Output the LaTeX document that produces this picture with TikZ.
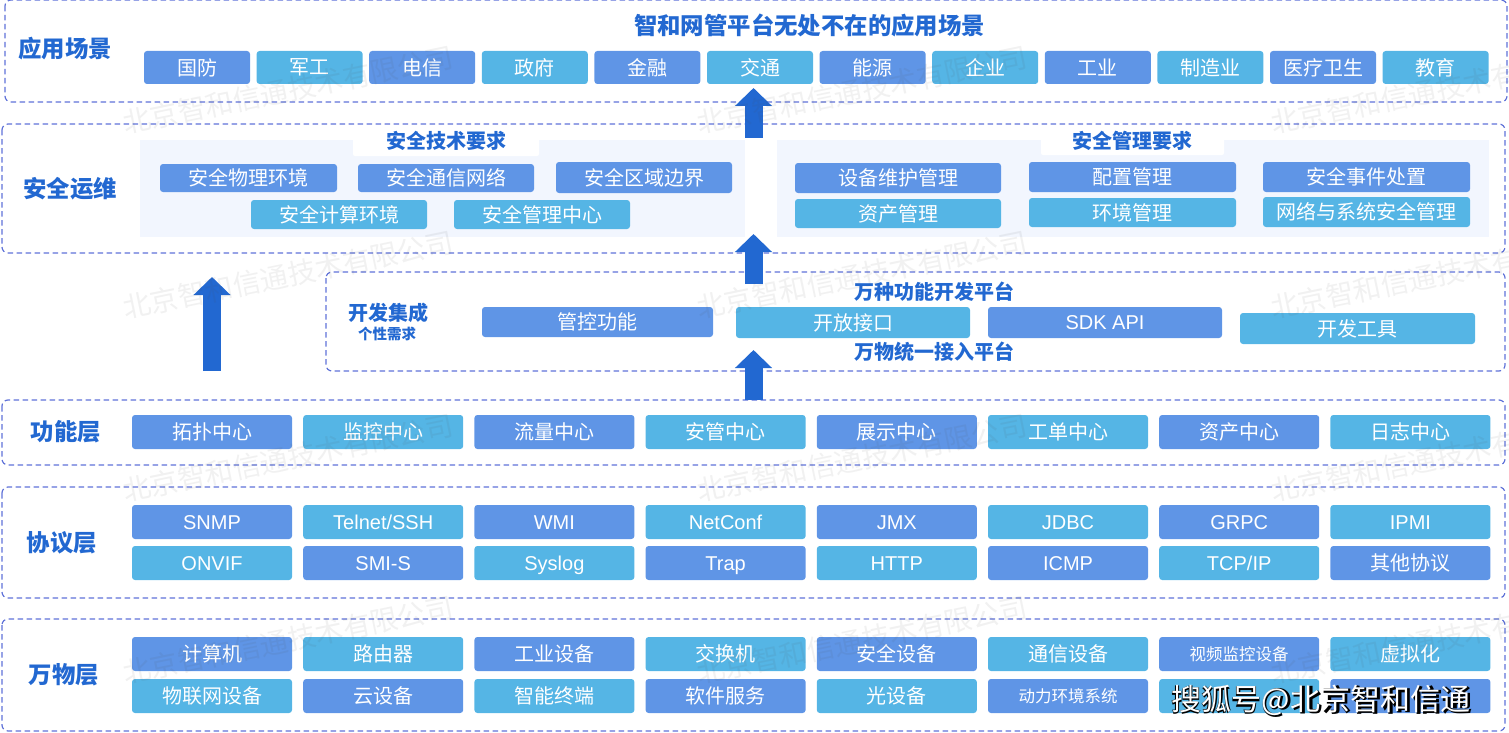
\documentclass[tikz,border=0pt]{standalone}
\usepackage{fontspec}
\setmainfont{Noto Sans CJK SC}
\newfontfamily\latinfont{Liberation Sans}
\usetikzlibrary{arrows.meta}
\definecolor{boxblue}{HTML}{5F95E6}
\definecolor{boxcyan}{HTML}{55B5E5}
\definecolor{headblue}{HTML}{2268D1}
\definecolor{panelline}{HTML}{5F72D8}
\definecolor{softbg}{HTML}{F2F6FE}
\tikzset{
    panel/.style={draw=panelline, dash pattern=on 5.5pt off 3.5pt, line width=1.2pt, rounded corners=6pt},
    cell/.style={text=white, rounded corners=3pt, inner sep=0pt, font=\fontsize{20}{24}\selectfont},
    latincell/.style={cell, font=\fontsize{20}{24}\selectfont\latinfont, text height=16pt, text depth=2pt},
    head/.style={text=headblue, inner sep=0pt, font=\fontsize{23.4}{26}\selectfont\bfseries},
    subhead/.style={text=headblue, inner sep=0pt, font=\fontsize{20}{24}\selectfont\bfseries},
    upflow/.style={draw=headblue, line width=18pt, -{Triangle[length=18pt, width=36pt]}},
    stamp/.style={text=black!70, opacity=0.08, rotate=11.5, inner sep=0pt, font=\fontsize{28}{30}\selectfont},
}
\begin{document}
\begin{tikzpicture}[x=1pt, y=-1pt]
    \useasboundingbox (0,0) rectangle (1509,733);
    \def\wide{160}
    \def\tall{34}
    \def\pitch{171.2}

    \draw[panel] (5,0) rectangle (1507,102);
    \draw[panel] (2,124) rectangle (1505,253);
    \draw[panel] (326,272) rectangle (1505,371);
    \draw[panel] (2,400) rectangle (1505,465);
    \draw[panel] (2,487) rectangle (1505,598);
    \draw[panel] (2,619) rectangle (1505,731);

    \fill[softbg] (140,140) rectangle (745,237);
    \fill[softbg] (777,140) rectangle (1489,237);
    \fill[white, rounded corners=2pt] (353,127) rectangle (539,156);
    \fill[white, rounded corners=2pt] (1041,127) rectangle (1224,155);

    \node[head] (apphead) at (65,49) {应用场景};
    \node[head] (title) at (809.5,25) {智和网管平台无处不在的应用场景};
    \node[head] (safehead) at (70,189) {安全运维};
    \node[subhead] (techhead) at (446,141) {安全技术要求};
    \node[subhead] (manhead) at (1132,141) {安全管理要求};
    \node[subhead] (devhead) at (388,313) {开发集成};
    \node[text=headblue, inner sep=0pt, font=\fontsize{14.5}{16}\selectfont\bfseries] (devsub) at (387,334) {个性需求};
    \node[subhead] (devtop) at (934,292) {万种功能开发平台};
    \node[subhead] (devbot) at (934,352) {万物统一接入平台};
    \node[head] (fnhead) at (66,432) {功能层};
    \node[head] (prohead) at (62,543) {协议层};
    \node[head] (thinghead) at (64,675) {万物层};

    \foreach \name [count=\i] in {国防, 军工, 电信, 政府, 金融, 交通, 能源, 企业, 工业, 制造业, 医疗卫生, 教育} {
        \ifodd\i \def\tone{boxblue}\else\def\tone{boxcyan}\fi
        \node[cell, fill=\tone, minimum width=106, minimum height=33] (app\i) at ({197+112.6*(\i-1)},67.5) {\name};
    }

    \node[cell, fill=boxblue, minimum width=177, minimum height=28] (tech1) at (248.5,178) {安全物理环境};
    \node[cell, fill=boxblue, minimum width=176, minimum height=28] (tech2) at (446,178) {安全通信网络};
    \node[cell, fill=boxblue, minimum width=176, minimum height=31] (tech3) at (644,177.5) {安全区域边界};
    \node[cell, fill=boxcyan, minimum width=176, minimum height=29] (tech4) at (339,214.5) {安全计算环境};
    \node[cell, fill=boxcyan, minimum width=176, minimum height=29] (tech5) at (542,214.5) {安全管理中心};

    \node[cell, fill=boxblue, minimum width=206, minimum height=30] (man1) at (898,178) {设备维护管理};
    \node[cell, fill=boxcyan, minimum width=206, minimum height=29] (man2) at (898,213.5) {资产管理};
    \node[cell, fill=boxblue, minimum width=207, minimum height=30] (man3) at (1132.5,177) {配置管理};
    \node[cell, fill=boxcyan, minimum width=207, minimum height=29] (man4) at (1132.5,212.5) {环境管理};
    \node[cell, fill=boxblue, minimum width=207, minimum height=30] (man5) at (1366.5,177) {安全事件处置};
    \node[cell, fill=boxcyan, minimum width=207, minimum height=30] (man6) at (1366.5,212) {网络与系统安全管理};

    \node[cell, fill=boxblue, minimum width=231, minimum height=30] (dev1) at (597.5,322) {管控功能};
    \node[cell, fill=boxcyan, minimum width=234, minimum height=31] (dev2) at (853,322.5) {开放接口};
    \node[latincell, fill=boxblue, minimum width=234, minimum height=31] (dev3) at (1105,322.5) {SDK API};
    \node[cell, fill=boxcyan, minimum width=235, minimum height=31] (dev4) at (1357.5,328.5) {开发工具};

    \foreach \name [count=\i] in {拓扑中心, 监控中心, 流量中心, 安管中心, 展示中心, 工单中心, 资产中心, 日志中心} {
        \ifodd\i \def\tone{boxblue}\else\def\tone{boxcyan}\fi
        \node[cell, fill=\tone, minimum width=\wide, minimum height=\tall] (fn\i) at ({212+\pitch*(\i-1)},432) {\name};
    }
    \foreach \name [count=\i] in {SNMP, Telnet/SSH, WMI, NetConf, JMX, JDBC, GRPC, IPMI} {
        \ifodd\i \def\tone{boxblue}\else\def\tone{boxcyan}\fi
        \node[latincell, fill=\tone, minimum width=\wide, minimum height=\tall] (proa\i) at ({212+\pitch*(\i-1)},522) {\name};
    }
    \foreach \name [count=\i] in {ONVIF, SMI-S, Syslog, Trap, HTTP, ICMP, TCP/IP} {
        \ifodd\i \def\tone{boxcyan}\else\def\tone{boxblue}\fi
        \node[latincell, fill=\tone, minimum width=\wide, minimum height=\tall] (prob\i) at ({212+\pitch*(\i-1)},563) {\name};
    }
    \node[cell, fill=boxblue, minimum width=\wide, minimum height=\tall] (prob8) at (1410.4,563) {其他协议};
    \foreach \name [count=\i] in {计算机, 路由器, 工业设备, 交换机, 安全设备, 通信设备, {\fontsize{16.5}{20}\selectfont 视频监控设备}, 虚拟化} {
        \ifodd\i \def\tone{boxblue}\else\def\tone{boxcyan}\fi
        \node[cell, fill=\tone, minimum width=\wide, minimum height=\tall] (thinga\i) at ({212+\pitch*(\i-1)},654) {\name};
    }
    \foreach \name [count=\i] in {物联网设备, 云设备, 智能终端, 软件服务, 光设备, {\fontsize{16.5}{20}\selectfont 动力环境系统}, {}, {}} {
        \ifodd\i \def\tone{boxcyan}\else\def\tone{boxblue}\fi
        \node[cell, fill=\tone, minimum width=\wide, minimum height=\tall] (thingb\i) at ({212+\pitch*(\i-1)},696) {\name};
    }

    \coordinate (sidefoot) at (212,371);
    \coordinate (sidetip) at (212,277);
    \coordinate (fntop) at (753.5,400);
    \coordinate (devfoot) at (753.5,350);
    \coordinate (devtip) at (753.5,284);
    \coordinate (safefoot) at (753.5,234);
    \coordinate (safetip) at (753.5,138);
    \coordinate (appfoot) at (753.5,88);
    \draw[upflow] (sidefoot) -- (sidetip);
    \draw[upflow] (fntop) -- (devfoot);
    \draw[upflow] (devtip) -- (safefoot);
    \draw[upflow] (safetip) -- (appfoot);

    \foreach \row/\ypos in {1/90, 2/275, 3/458, 4/640} {
        \foreach \col/\xpos in {1/288, 2/862, 3/1436} {
            \node[stamp] (stamp\row\col) at (\xpos,\ypos) {北京智和信通技术有限公司};
        }
    }

    \node[text=black, inner sep=0pt, font=\fontsize{30}{34}\selectfont\bfseries] (markback) at (1322,701.5) {搜狐号@北京智和信通};
    \node[text=white, inner sep=0pt, font=\fontsize{30}{34}\selectfont] (markfront) at (1321,700) {搜狐号@北京智和信通};
\end{tikzpicture}
\end{document}
